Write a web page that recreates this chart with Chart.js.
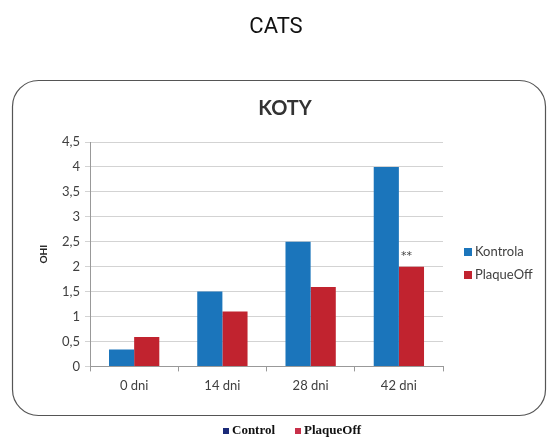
<!DOCTYPE html>
<html>
<head>
<meta charset="utf-8">
<script src="https://cdn.jsdelivr.net/npm/chart.js@4.4.1/dist/chart.umd.min.js"></script>
<style>
  html, body { margin: 0; padding: 0; background: #fff; }
  #wrap { width: 553px; height: 437px; }
</style>
</head>
<body>
<div id="wrap"><canvas id="koty" width="553" height="437"></canvas></div>
<script>
// dane z wykresu
const categories = ['0 dni', '14 dni', '28 dni', '42 dni'];
const kontrola = [0.34, 1.5, 2.5, 4.0];
const plaqueOff = [0.59, 1.1, 1.59, 2.0];
const seriesNames = ['Kontrola', 'PlaqueOff'];
const captionNames = ['Control', 'PlaqueOff'];
const yTicks = [0, 0.5, 1, 1.5, 2, 2.5, 3, 3.5, 4, 4.5];

const BLUE = '#1b75bb';
const RED = '#c1232f';

// ramka, tytuly, legenda i gwiazdki
const decor = {
    id: 'decor',
    beforeDraw(chart) {
        const c = chart.ctx;
        c.save();
        c.fillStyle = '#fff';
        c.fillRect(0, 0, chart.width, chart.height);
        // zaokraglona ramka
        c.strokeStyle = '#555';
        c.lineWidth = 1.2;
        c.beginPath();
        c.roundRect(12.5, 80.5, 533, 335, 26);
        c.stroke();
        // tytul strony
        c.fillStyle = '#111';
        c.font = '22px "Liberation Sans Narrow", "Roboto", sans-serif';
        c.textAlign = 'center';
        c.textBaseline = 'middle';
        c.fillText('CATS', 276, 27);
        // tytul wykresu
        c.fillStyle = '#333';
        c.font = 'bold 20px Lato, "Open Sans", sans-serif';
        c.fillText('KOTY', 285, 109);
        c.restore();
    },
    afterDraw(chart) {
        const c = chart.ctx;
        c.save();
        // legenda po prawej
        c.font = '13px Lato, "Open Sans", sans-serif';
        c.textAlign = 'left';
        c.textBaseline = 'middle';
        chart.data.datasets.forEach((ds, i) => {
            const y = 252 + i * 23;
            c.fillStyle = ds.backgroundColor;
            c.fillRect(464, y - 4, 8, 8);
            c.fillStyle = '#404040';
            c.fillText(ds.label, 475, y);
        });
        // ** nad slupkiem PlaqueOff 42 dni
        const bar = chart.getDatasetMeta(1).data[3];
        c.fillStyle = '#444';
        c.font = '11px "DejaVu Sans", sans-serif';
        c.textAlign = 'center';
        c.fillText('**', bar.x - 5, bar.y - 11);
        // podpis pod ramka
        c.font = 'bold 13px "Liberation Serif", "DejaVu Serif", serif';
        c.textAlign = 'left';
        const capColors = ['#1b2a78', '#c8304a'];
        const capX = [223, 295];
        captionNames.forEach((n, i) => {
            c.fillStyle = capColors[i];
            c.fillRect(capX[i], 428, 6, 6);
            c.fillStyle = '#111';
            c.fillText(n, capX[i] + 9, 431);
        });
        c.restore();
    }
};

const ctx = document.getElementById('koty').getContext('2d');
const chart = new Chart(ctx, {
    type: 'bar',
    data: {
        labels: categories,
        datasets: [
            { label: seriesNames[0], data: kontrola, backgroundColor: BLUE },
            { label: seriesNames[1], data: plaqueOff, backgroundColor: RED }
        ]
    },
    options: {
        responsive: false,
        animation: false,
        devicePixelRatio: 1,
        layout: { padding: { top: 142, left: 30, right: 110, bottom: 36 } },
        datasets: { bar: { categoryPercentage: 0.57, barPercentage: 1.0 } },
        scales: {
            x: {
                grid: { display: true, drawOnChartArea: false, offset: true, tickLength: 5, color: '#999' },
                border: { color: '#999' },
                ticks: { padding: 7, color: '#404040', font: { family: 'Lato', size: 13 } }
            },
            y: {
                min: 0,
                max: 4.5,
                afterBuildTicks(axis) { axis.ticks = yTicks.map(v => ({ value: v })); },
                grid: { color: '#d3d3d3', tickLength: 5 },
                border: { color: '#999' },
                ticks: {
                    padding: 5,
                    color: '#404040',
                    font: { family: 'Lato', size: 13 },
                    callback: v => String(v).replace('.', ',')
                },
                title: { display: true, text: 'OHI', color: '#222', font: { family: 'Lato', size: 10, weight: 'bold' }, padding: 7.5 }
            }
        },
        plugins: {
            legend: { display: false },
            title: { display: false },
            tooltip: { enabled: false }
        }
    },
    plugins: [decor]
});
</script>
</body>
</html>
